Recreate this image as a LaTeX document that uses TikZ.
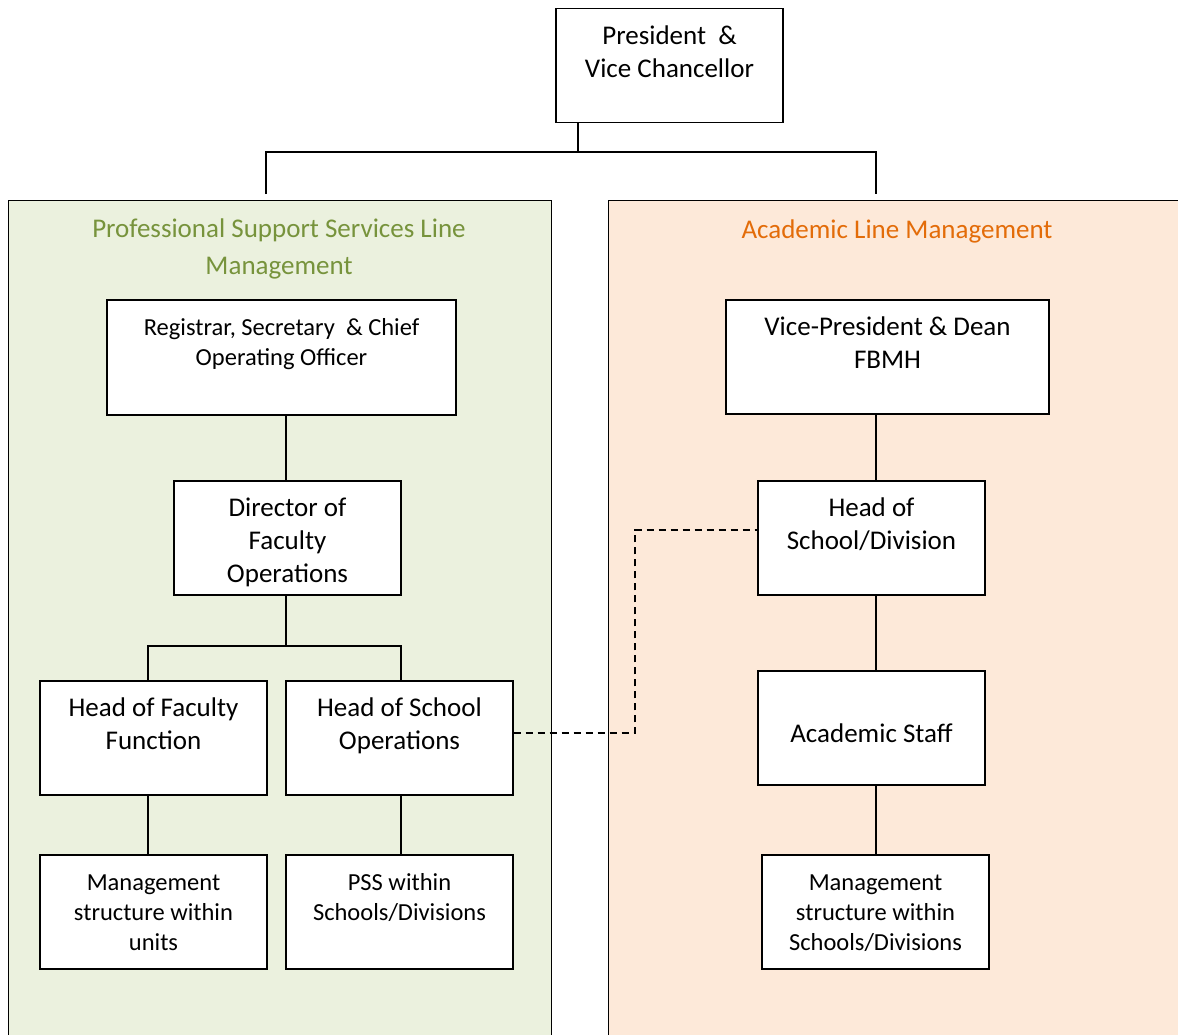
\documentclass[tikz,border=0pt]{standalone}
\usepackage{fontspec}
\setmainfont{Carlito}
\definecolor{gfill}{HTML}{EBF1DE}
\definecolor{gtext}{HTML}{77933C}
\definecolor{ofill}{HTML}{FDE9D9}
\definecolor{otext}{HTML}{E36C09}
\newcommand\tbig{\rule{0pt}{33pt}}
\newcommand\tsml{\rule{0pt}{25pt}}
\begin{document}
\begin{tikzpicture}[x=1pt,y=-1pt,
  box/.style={draw=black,line width=1.4pt,fill=white,minimum width=227pt,minimum height=114pt,inner sep=0pt,align=center,
    font=\fontsize{27}{33}\selectfont},
  sbox/.style={box,font=\fontsize{24.5}{30}\selectfont},
  panel/.style={draw=black,line width=1.4pt},
  conn/.style={line width=1.4pt},
  dconn/.style={line width=1.4pt,dash pattern=on 7pt off 5pt}]
\useasboundingbox (0,0) rectangle (1178,1034);
\clip (0,0) rectangle (1178,1034);
% panels
\node[panel,fill=gfill,minimum width=543pt,minimum height=860pt,anchor=north west,inner sep=0pt] (lp) at (8,200) {};
\node[panel,fill=ofill,minimum width=600pt,minimum height=860pt,anchor=north west,inner sep=0pt] (rp) at (608,200) {};
\node[text=gtext,align=center,font=\fontsize{27}{37}\selectfont,inner sep=0pt] (lt) at (279,249) {Professional Support Services Line\\Management};
\node[text=otext,font=\fontsize{27}{37}\selectfont,inner sep=0pt] (rt) at (897,231) {Academic Line Management};
% top
\node[box] (pres) at (669.5,65.5) {\tbig President\ \ \&\\\strut Vice Chancellor\\\strut};
\coordinate (j) at (578,152);
\coordinate (tl) at (266,194);
\coordinate (tr) at (876,194);
\draw[conn] (j |- pres.south) -- (j);
\draw[conn] (tl) -- (tl |- j) -- (tr |- j) -- (tr);
% left
\node[sbox,minimum width=349pt,minimum height=115pt] (reg) at (281.5,357.5) {\tsml Registrar, Secretary\ \ \& Chief\\\strut Operating Officer\\\strut};
\node[box] (dir) at (287.5,538) {\tbig Director of\\\strut Faculty\\\strut Operations};
\node[box] (hff) at (153.5,738) {\tbig Head of Faculty\\\strut Function\\\strut};
\node[box] (hso) at (399.5,738) {\tbig Head of School\\\strut Operations\\\strut};
\node[sbox] (msu) at (153.5,912) {\tsml Management\\\strut structure within\\\strut units};
\node[sbox] (pss) at (399.5,912) {\tsml PSS within\\\strut Schools/Divisions\\\strut};
\coordinate (lx) at (286,646);
\draw[conn] (lx |- reg.south) -- (lx |- dir.north);
\draw[conn] (lx |- dir.south) -- (lx);
\draw[conn] (148,681) |- (lx) -| (401,681);
\draw[conn] (148,795) -- (148,855);
\draw[conn] (401,795) -- (401,855);
% right
\node[box,minimum width=323pt] (vp) at (887.5,357) {\tbig Vice-President \& Dean\\\strut FBMH\\\strut};
\node[box] (hsd) at (871.5,538) {\tbig Head of\\\strut School/Division\\\strut};
\node[box] (acs) at (871.5,728) {\rule{0pt}{30pt}Academic Staff};
\node[sbox] (msd) at (875.5,912) {\tsml Management\\\strut structure within\\\strut Schools/Divisions};
\coordinate (rx) at (876,0);
\draw[conn] (rx |- vp.south) -- (rx |- hsd.north);
\draw[conn] (rx |- hsd.south) -- (rx |- acs.north);
\draw[conn] (rx |- acs.south) -- (rx |- msd.north);
% dashed
\coordinate (d1) at (635,733);
\coordinate (d2) at (635,530);
\draw[dconn] (hso.east |- d1) -- (d1) -- (d2) -- (d2 -| hsd.west);
\end{tikzpicture}
\end{document}
